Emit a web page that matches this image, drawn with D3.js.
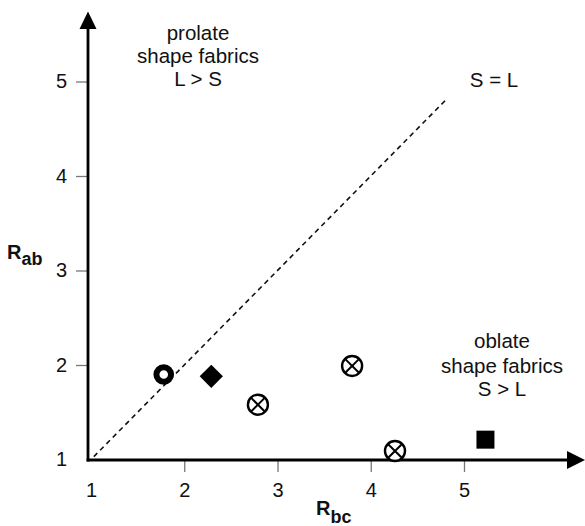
<!DOCTYPE html>
<html>
<head>
<meta charset="utf-8">
<script src="https://cdn.jsdelivr.net/npm/d3@7"></script>
<style>
  html, body { margin: 0; padding: 0; background: #fff; }
  svg { display: block; font-family: "Liberation Sans", Arial, Helvetica, sans-serif; }
</style>
</head>
<body>
<svg id="chart" width="585" height="526"></svg>
<script>
// ---- data ----
const rbc = [1.78, 2.29, 2.79, 3.80, 4.26, 5.23];
const rab = [1.90, 1.88, 1.58, 1.99, 1.09, 1.21];
const markerTypes = ["ring", "diamond", "crossed", "crossed", "crossed", "square"];
const tickValues = [1, 2, 3, 4, 5];
const tickLabels = ["1", "2", "3", "4", "5"];
const equalityLine = [1.03, 4.8];
const prolateText = ["prolate", "shape fabrics", "L > S"];
const oblateText = ["oblate", "shape fabrics", "S > L"];
const equalityLabel = "S = L";

// ---- layout ----
const svg = d3.select("#chart");
const x = d3.scaleLinear().domain([1, 5]).range([91, 464]);
const y = d3.scaleLinear().domain([1, 5]).range([459.5, 81.5]);
const axisX0 = 88, axisY0 = 460;

// x axis ticks + labels
const gx = svg.append("g").attr("transform", `translate(0,${axisY0})`)
  .call(d3.axisBottom(x).tickValues(tickValues).tickFormat((d, i) => tickLabels[i]).tickSize(12).tickPadding(11));
gx.select(".domain").remove();
gx.selectAll(".tick line").attr("stroke", "#777").attr("stroke-width", 1.3)
  .filter(d => d === 1).remove();
gx.selectAll(".tick text").attr("font-size", 20).attr("fill", "#111")
  .attr("font-family", "'Liberation Sans', Arial, sans-serif");

// y axis ticks + labels
const gy = svg.append("g").attr("transform", `translate(${axisX0},0)`)
  .call(d3.axisLeft(y).tickValues(tickValues).tickFormat((d, i) => tickLabels[i]).tickSize(12).tickPadding(9));
gy.select(".domain").remove();
gy.selectAll(".tick line").attr("stroke", "#777").attr("stroke-width", 1.3)
  .filter(d => d === 1).remove();
gy.selectAll(".tick text").attr("font-size", 20).attr("fill", "#111")
  .attr("font-family", "'Liberation Sans', Arial, sans-serif");

// axis lines with arrows
svg.append("line").attr("x1", axisX0).attr("y1", axisY0 + 1.4).attr("x2", axisX0).attr("y2", 27)
  .attr("stroke", "#000").attr("stroke-width", 2.8);
svg.append("path").attr("d", `M${axisX0},11.5 L${axisX0 - 8.5},29 L${axisX0 + 8.5},29 Z`).attr("fill", "#000");
svg.append("line").attr("x1", axisX0 - 1.4).attr("y1", axisY0).attr("x2", 568).attr("y2", axisY0)
  .attr("stroke", "#000").attr("stroke-width", 2.8);
svg.append("path").attr("d", `M585,${axisY0} L567,${axisY0 - 9} L567,${axisY0 + 9} Z`).attr("fill", "#000");

// S = L dashed line
svg.append("line")
  .attr("x1", x(equalityLine[0])).attr("y1", y(equalityLine[0]))
  .attr("x2", x(equalityLine[1])).attr("y2", y(equalityLine[1]))
  .attr("stroke", "#111").attr("stroke-width", 1.6).attr("stroke-dasharray", "5,4");

// annotations
function block(lines, cx, baselines) {
  const t = svg.append("text").attr("text-anchor", "middle").attr("font-size", 20.5).attr("fill", "#111");
  lines.forEach((s, i) => t.append("tspan").attr("x", cx).attr("y", baselines[i]).text(s));
}
block(prolateText, 198, [39.5, 62.5, 86]);
block(oblateText, 502, [348, 372.5, 396]);
svg.append("text").attr("x", 494).attr("y", 86.5).attr("text-anchor", "middle")
  .attr("font-size", 20.5).attr("fill", "#111").text(equalityLabel);

// axis titles
function title(xp, yp, main, sub, subDy) {
  const t = svg.append("text").attr("x", xp).attr("y", yp).attr("font-weight", "bold").attr("fill", "#111");
  t.append("tspan").attr("font-size", 20).text(main);
  t.append("tspan").attr("font-size", 18).attr("dy", subDy).text(sub);
}
title(7, 259, "R", "ab", 6);
title(316, 515, "R", "bc", 7.5);

// markers
const pts = rbc.map((v, i) => ({ x: v, y: rab[i], type: markerTypes[i] }));
const g = svg.append("g");
pts.forEach(p => {
  const cx = x(p.x), cy = y(p.y);
  const m = g.append("g").attr("transform", `translate(${cx},${cy})`);
  if (p.type === "ring") {
    m.append("circle").attr("r", 7.3).attr("fill", "#fff").attr("stroke", "#000").attr("stroke-width", 6);
  } else if (p.type === "diamond") {
    m.append("path").attr("d", d3.symbol(d3.symbolSquare, 270)()).attr("transform", "rotate(45)").attr("fill", "#000");
  } else if (p.type === "square") {
    m.append("path").attr("d", d3.symbol(d3.symbolSquare, 324)()).attr("fill", "#000");
  } else {
    const r = 10, k = r * Math.SQRT1_2;
    m.append("circle").attr("r", r).attr("fill", "#fff").attr("stroke", "#000").attr("stroke-width", 2.4);
    m.append("line").attr("x1", -k).attr("y1", -k).attr("x2", k).attr("y2", k).attr("stroke", "#000").attr("stroke-width", 2);
    m.append("line").attr("x1", -k).attr("y1", k).attr("x2", k).attr("y2", -k).attr("stroke", "#000").attr("stroke-width", 2);
  }
});
</script>
</body>
</html>
